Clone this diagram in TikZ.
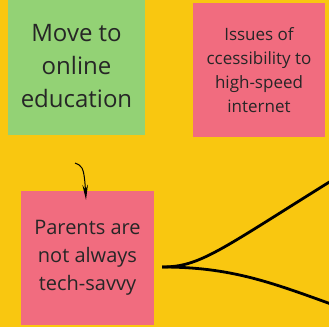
\documentclass[tikz,border=0pt]{standalone}
\usepackage{fontspec}
\setmainfont{Open Sans}
\usetikzlibrary{arrows.meta}
\definecolor{board}{HTML}{F9C710}
\definecolor{notegreen}{HTML}{93D275}
\definecolor{notered}{HTML}{F16C7F}
\definecolor{inktext}{HTML}{262626}
\tikzstyle{note} = [rectangle, inner sep=0pt, text centered, text=inktext, align=center]
\tikzstyle{greennote} = [note, fill=notegreen, minimum width=137pt, minimum height=137pt]
\tikzstyle{rednote} = [note, fill=notered, minimum width=133pt, minimum height=134pt]
\tikzstyle{arrow} = [-{Stealth[length=15pt,width=5.5pt]}, line width=1pt]
\tikzstyle{branch} = [line width=2.8pt]

\begin{document}
\begin{tikzpicture}[x=1pt, y=-1pt]
    \fill [board] (0,0) rectangle (329,327);
    \useasboundingbox (0,0) rectangle (329,327);
    \node (move) [greennote, font=\fontsize{24}{33}\selectfont] at (76.5,66.5) {Move to\\online\\education};
    \node (issues) [rednote, minimum width=132pt, font=\fontsize{17}{24}\selectfont] at (259,70) {Issues of\\ccessibility to\\high-speed\\internet};
    \node (parents) [rednote, font=\fontsize{20}{28}\selectfont] at (87.5,258) {Parents are\\not always\\tech-savvy};
    \coordinate (tail) at (75,163);
    \coordinate (up) at (331,181);
    \coordinate (down) at (331,304);
    \draw [arrow] (tail) .. controls (81,166) and (84,164) .. ([xshift=-1.5pt,yshift=-9pt]parents.north);
    \draw [branch] ([xshift=8pt]parents.east |- 0,267) .. controls (200,267) and (220,250) .. (up);
    \draw [branch] ([xshift=8pt]parents.east |- 0,267) .. controls (230,267) and (270,282) .. (down);
\end{tikzpicture}
\end{document}
